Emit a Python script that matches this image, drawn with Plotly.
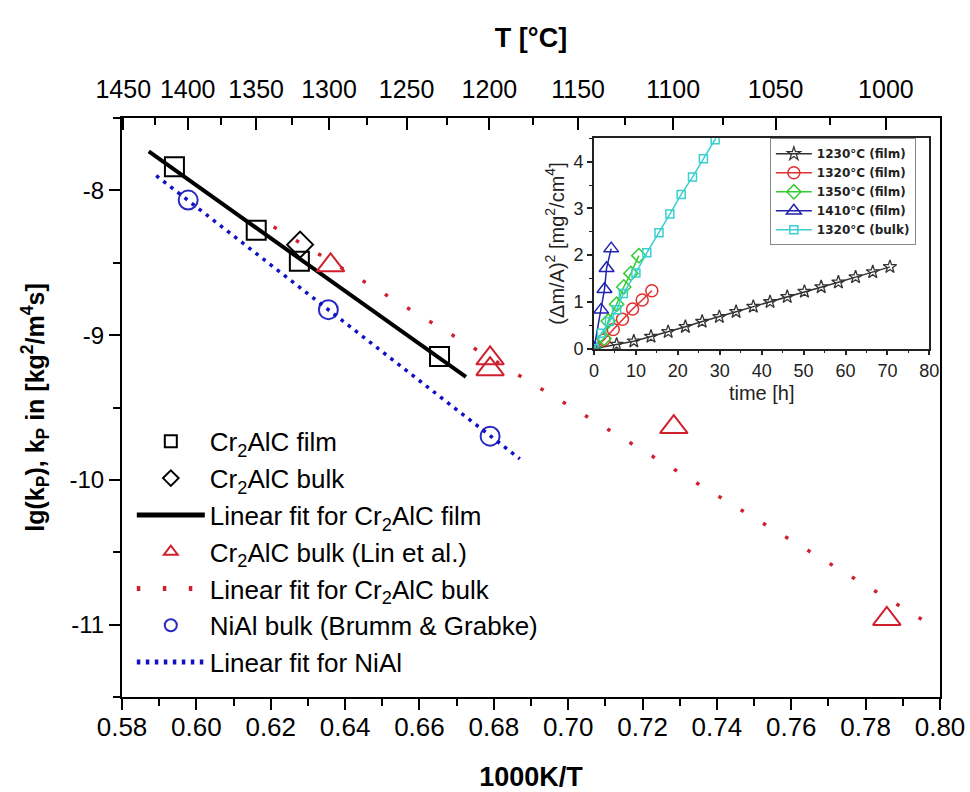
import plotly.graph_objects as go

# ---------------- main plot data ----------------
film_x = [0.5941, 0.6161, 0.6277, 0.6654]
film_y = [-7.836, -8.275, -8.49, -9.147]
bulk_x = [0.6279]
bulk_y = [-8.375]
film_fit_x = [0.5872, 0.6725]
film_fit_y = [-7.731, -9.289]
lin_x = [0.6361, 0.679, 0.679, 0.7284, 0.7857]
lin_y = [-8.518, -9.160, -9.235, -9.635, -10.961]
lin_fit_x = [0.6208, 0.7952]
lin_fit_y = [-8.252, -10.965]
nial_x = [0.5978, 0.6355, 0.679]
nial_y = [-8.067, -8.824, -9.698]
nial_fit_x = [0.5892, 0.687]
nial_fit_y = [-7.898, -9.855]

y_tick_vals = [-11, -10, -9, -8]
y_tick_text = ["-11", "-10", "-9", "-8"]
top_T_major = [1450, 1400, 1350, 1300, 1250, 1200, 1150, 1100, 1050, 1000]
top_T_minor = [1425, 1375, 1325, 1275, 1225, 1175, 1125, 1075, 1025, 975]

# ---------------- inset data ----------------
t_1230 = [0, 5.4, 9.5, 13.6, 17.7, 21.8, 25.8, 29.9, 33.9, 38.0, 42.0, 46.1, 50.2, 54.2, 58.3, 62.4, 66.5, 70.6]
w_1230 = [0, 0.09, 0.16, 0.26, 0.36, 0.47, 0.58, 0.68, 0.79, 0.90, 1.00, 1.11, 1.22, 1.32, 1.42, 1.53, 1.64, 1.75]
t_1320f = [0, 2.4, 4.6, 6.8, 9.2, 11.5, 13.8]
w_1320f = [0, 0.19, 0.41, 0.63, 0.85, 1.04, 1.24]
t_1350 = [0, 2.4, 3.4, 5.4, 7.1, 8.8, 10.7]
w_1350 = [0, 0.22, 0.59, 0.95, 1.32, 1.61, 1.99]
t_1410 = [0, 1.7, 2.5, 3.0, 4.1]
w_1410 = [0, 0.83, 1.27, 1.72, 2.14]
t_bulk = [0, 1.8, 3.7, 5.4, 7.0, 10.0, 12.6, 15.5, 18.1, 20.8, 23.5, 26.1, 28.9, 31.6]
w_bulk = [0, 0.33, 0.58, 0.83, 1.18, 1.62, 2.05, 2.48, 2.88, 3.30, 3.67, 4.06, 4.47, 4.88]

FONT = "Liberation Sans, Arial, sans-serif"
RED = "#d0202e"
BLUE = "#2a2ac0"

def inv_T(T):
    return 1000.0 / (T + 273.15)

fig = go.Figure()

# main traces (legend order)
fig.add_trace(go.Scatter(x=film_x, y=film_y, mode="markers", name="Cr<sub>2</sub>AlC film",
                         marker=dict(symbol="square-open", size=19, color="black", line=dict(width=2))))
fig.add_trace(go.Scatter(x=bulk_x, y=bulk_y, mode="markers", name="Cr<sub>2</sub>AlC bulk",
                         marker=dict(symbol="diamond-open", size=20, color="black", line=dict(width=2))))
fig.add_trace(go.Scatter(x=film_fit_x, y=film_fit_y, mode="lines", name="Linear fit for Cr<sub>2</sub>AlC film",
                         line=dict(color="black", width=4)))
fig.add_trace(go.Scatter(x=lin_x, y=lin_y, mode="markers", name="Cr<sub>2</sub>AlC bulk (Lin et al.)",
                         marker=dict(symbol="triangle-up-open", size=24, color=RED, line=dict(width=2))))
fig.add_trace(go.Scatter(x=lin_fit_x, y=lin_fit_y, mode="lines", name="Linear fit for Cr<sub>2</sub>AlC bulk",
                         line=dict(color=RED, width=3.5, dash="3.5px,22.5px")))
fig.add_trace(go.Scatter(x=nial_x, y=nial_y, mode="markers", name="NiAl bulk (Brumm &amp; Grabke)",
                         marker=dict(symbol="circle-open", size=19, color=BLUE, line=dict(width=2))))
fig.add_trace(go.Scatter(x=nial_fit_x, y=nial_fit_y, mode="lines", name="Linear fit for NiAl",
                         line=dict(color="#1010c8", width=3.5, dash="3.5px,5.5px")))
# carrier for the top temperature axis
fig.add_trace(go.Scatter(x=film_x, y=film_y, xaxis="x2", mode="none", showlegend=False, hoverinfo="skip"))

# inset traces
ins = dict(xaxis="x3", yaxis="y3", legend="legend2", mode="lines+markers")
fig.add_trace(go.Scatter(x=t_1230, y=w_1230, name="1230°C (film)", line=dict(color="#333333", width=1.5),
                         marker=dict(symbol="star-open", size=10, color="#333333", line=dict(width=1.3)), **ins))
fig.add_trace(go.Scatter(x=t_1320f, y=w_1320f, name="1320°C (film)", line=dict(color="#e03030", width=1.5),
                         marker=dict(symbol="circle-open", size=12, color="#e03030", line=dict(width=1.5)), **ins))
fig.add_trace(go.Scatter(x=t_1350, y=w_1350, name="1350°C (film)", line=dict(color="#33cc33", width=1.5),
                         marker=dict(symbol="diamond-open", size=11, color="#33cc33", line=dict(width=1.5)), **ins))
fig.add_trace(go.Scatter(x=t_1410, y=w_1410, name="1410°C (film)", line=dict(color="#2222b0", width=1.5),
                         marker=dict(symbol="triangle-up-open", size=13, color="#2222b0", line=dict(width=1.5)), **ins))
fig.add_trace(go.Scatter(x=t_bulk, y=w_bulk, name="1320°C (bulk)", line=dict(color="#38d0d0", width=1.5),
                         marker=dict(symbol="square-open", size=8, color="#38d0d0", line=dict(width=1.5)), **ins))

fig.update_layout(
    width=970, height=792,
    margin=dict(l=122, r=30, t=118, b=95),
    paper_bgcolor="white", plot_bgcolor="white",
    font=dict(family=FONT, color="black"),
    showlegend=True,
    xaxis=dict(
        range=[0.58, 0.80], dtick=0.02, tick0=0.58, tickformat=".2f", automargin=False,
        showgrid=False, zeroline=False, showline=True, linecolor="black", linewidth=2,
        ticks="outside", ticklen=11, tickwidth=2, tickcolor="black",
        minor=dict(dtick=0.01, ticks="outside", ticklen=7, tickwidth=2, tickcolor="black"),
        tickfont=dict(size=26, family=FONT), ticklabelstandoff=-5,
        title=dict(text="1000K/T", font=dict(size=27, family=FONT, weight="bold"), standoff=33),
    ),
    xaxis2=dict(
        overlaying="x", side="top", anchor="y", range=[0.58, 0.80], automargin=False,
        tickmode="array", tickvals=[inv_T(t) for t in top_T_major], ticktext=[str(t) for t in top_T_major],
        showgrid=False, zeroline=False, showline=True, linecolor="black", linewidth=2,
        ticks="inside", ticklen=12, tickwidth=2, tickcolor="black",
        minor=dict(tickmode="array", tickvals=[inv_T(t) for t in top_T_minor], ticks="inside",
                   ticklen=7, tickwidth=2, tickcolor="black"),
        tickfont=dict(size=25, family=FONT), ticklabelstandoff=8,
        title=dict(text="T [°C]", font=dict(size=27, family=FONT, weight="bold"), standoff=20),
    ),
    yaxis=dict(
        range=[-11.5, -7.5], tickmode="array", tickvals=y_tick_vals, ticktext=y_tick_text, automargin=False,
        showgrid=False, zeroline=False, showline=True, mirror=True, linecolor="black", linewidth=2,
        ticks="outside", ticklen=11, tickwidth=2, tickcolor="black",
        minor=dict(tickmode="array", tickvals=[-11.5, -10.5, -9.5, -8.5, -7.5], ticks="outside",
                   ticklen=7, tickwidth=2, tickcolor="black"),
        tickfont=dict(size=24, family=FONT),
        title=dict(text="lg(k<sub>P</sub>), k<sub>P</sub> in [kg<sup>2</sup>/m<sup>4</sup>s]",
                   font=dict(size=25, family=FONT, weight="bold"), standoff=18),
    ),
    xaxis3=dict(
        domain=[0.577, 0.987], anchor="y3", range=[0, 80], dtick=10, automargin=False,
        showgrid=False, zeroline=False, showline=True, mirror=True, linecolor="#222222", linewidth=1.5,
        ticks="outside", ticklen=5, tickwidth=1.5, tickcolor="#222222",
        minor=dict(dtick=5, ticks="outside", ticklen=3, tickwidth=1.2, tickcolor="#222222"),
        tickfont=dict(size=18, family=FONT, color="#222222"),
        title=dict(text="time [h]", font=dict(size=20, family=FONT, color="#222222"), standoff=6),
    ),
    yaxis3=dict(
        domain=[0.6016, 0.965], anchor="x3", range=[0, 4.5], dtick=1, automargin=False,
        showgrid=False, zeroline=False, showline=True, mirror=True, linecolor="#222222", linewidth=1.5,
        ticks="outside", ticklen=5, tickwidth=1.5, tickcolor="#222222",
        minor=dict(dtick=0.5, ticks="outside", ticklen=3, tickwidth=1.2, tickcolor="#222222"),
        tickfont=dict(size=18, family=FONT, color="#222222"),
        title=dict(text="(Δm/A)<sup>2</sup> [mg<sup>2</sup>/cm<sup>4</sup>]",
                   font=dict(size=20, family=FONT, color="#222222"), standoff=4),
    ),
    legend=dict(
        x=0.012, y=0.482, xanchor="left", yanchor="top",
        bgcolor="rgba(0,0,0,0)", borderwidth=0,
        font=dict(size=26, family=FONT, color="black"),
        itemwidth=68, itemsizing="constant", tracegroupgap=0,
    ),
    legend2=dict(
        x=0.792, y=0.965, xanchor="left", yanchor="top",
        bgcolor="white", bordercolor="#888888", borderwidth=1,
        font=dict(size=12, family="DejaVu Sans, sans-serif", color="#222222", weight="bold"),
        itemsizing="trace", itemwidth=36,
    ),
)

fig.write_html("out.html")
